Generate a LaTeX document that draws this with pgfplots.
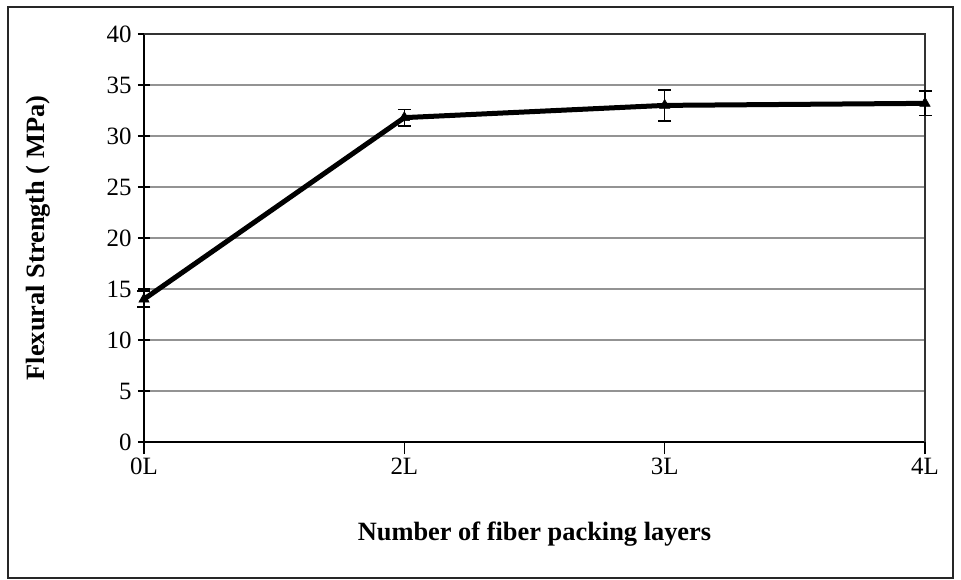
\documentclass[border=0pt]{standalone}
\usepackage{pgfplots}
\pgfplotsset{compat=1.18}
\usepackage{fontspec}
\setmainfont{Liberation Serif}
\begin{document}
\begin{tikzpicture}[x=1bp,y=1bp]
\path[use as bounding box] (-144,-138) rectangle (817,442);
\draw[line width=1.5bp, black!85] (-136,-136) rectangle (809,435);
\begin{axis}[
  at={(0,0)}, anchor=origin,
  scale only axis, width=781bp, height=408bp,
  xmin=0, xmax=3, ymin=0, ymax=40,
  xtick={0,1,2,3}, xticklabels={0L,2L,3L,4L},
  ytick={0,5,...,40},
  ymajorgrids, grid style={gray!85, line width=1.3bp},
  axis line style={line width=1.5bp},
  axis x line*=bottom, axis y line*=left,
  tick style={black, line width=1.2bp},
  major tick length=12bp,
  ytick align=center,
  xtick align=outside,
  /pgf/number format/assume math mode=true,
  tick label style={font=\fontsize{25}{28}\selectfont},
  xticklabel style={anchor=base, yshift=-20bp},
  yticklabel style={anchor=east, xshift=-3bp},
  xlabel={\textbf{Number of fiber packing layers}},
  ylabel={\textbf{Flexural Strength ( MPa)}},
  label style={font=\fontsize{26.5}{30}\selectfont},
  xlabel style={at={(axis description cs:0.5,-0.225)}, anchor=center},
  ylabel style={at={(axis description cs:-0.1357,0.5)}, anchor=center},
  clip=false,
]
\draw[black!80, line width=1.3bp] (axis cs:0,40) -- (axis cs:3,40) -- (axis cs:3,0);
\addplot[black, line width=5bp, mark=triangle*, mark size=6bp,
  mark options={solid, line width=0.5bp},
  error bars/.cd, y dir=both, y explicit,
  error bar style={line width=1.6bp, black},
  error mark options={rotate=90, mark size=6.5bp, line width=1.8bp, black}]
coordinates {
  (0,14.0) +- (0,0.8)
  (1,31.8) +- (0,0.8)
  (2,33.0) +- (0,1.5)
  (3,33.2) +- (0,1.2)
};
\end{axis}
\end{tikzpicture}
\end{document}
